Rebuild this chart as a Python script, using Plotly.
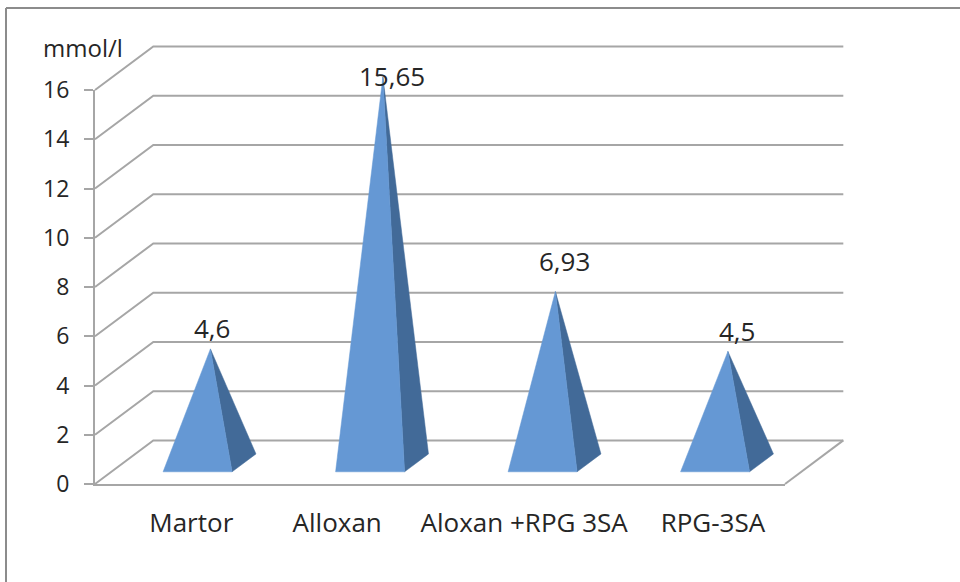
import plotly.graph_objects as go

# Fasting glucose per experimental group
groups = ["Martor", "Alloxan", "Aloxan +RPG 3SA", "RPG-3SA"]
glucose = [4.6, 15.65, 6.93, 4.5]
y_ticks = [0, 2, 4, 6, 8, 10, 12, 14, 16]
unit = "mmol/l"

# Oblique projection of the chart floor, in axis units
DEPTH_X = 0.338
DEPTH_Y = 1.77
HALF_BASE = 0.2
FRONT, MID, BACK = 0.28, 0.5, 0.69

# Nudges for the hand-placed labels (category units, pixels)
TICK_NUDGE = [0.058, -0.096, -0.012, 0.082]
VALUE_NUDGE = [(2, 1), (9, -19), (9, 11), (9, 0)]

GRID = "#A6A6A6"
TEXT = "#262626"
FONT = "Open Sans"
FACE = "#6598D4"
SIDE = "#426A98"

W, H = 960, 582
# Front plane of the chart on the page, in pixels
AX_L, AX_R, AX_TOP, AX_BOTTOM = 95, 785, 90, 484
x0, x1 = -0.5, len(groups) - 0.5
y_max = y_ticks[-1]
px_per_x = (AX_R - AX_L) / (x1 - x0)
px_per_y = (AX_BOTTOM - AX_TOP) / y_max

fig = go.Figure()

# The front axes live on x/y; this empty trace keeps that subplot drawn
fig.add_trace(go.Scatter(x=[None], y=[None], xaxis="x", yaxis="y", hoverinfo="skip"))


def overlay(**kw):
    return go.Scatter(xaxis="x2", yaxis="y2", cliponaxis=False, hoverinfo="skip", **kw)


# Gridlines run from the front axis over the side wall and along the back wall
grid_x, grid_y = [], []
for v in y_ticks:
    grid_x += [x0, x0 + DEPTH_X, x1 + DEPTH_X, None]
    grid_y += [v, v + DEPTH_Y, v + DEPTH_Y, None]
grid_x += [x1 + DEPTH_X, x1]
grid_y += [DEPTH_Y, 0]
fig.add_trace(overlay(x=grid_x, y=grid_y, mode="lines", line=dict(color=GRID, width=2)))

# Pyramids: a lit front face and a darker right face meeting at the apex
for i, v in enumerate(glucose):
    apex = (i + MID * DEPTH_X, v + MID * DEPTH_Y)
    fl = (i - HALF_BASE + FRONT * DEPTH_X, FRONT * DEPTH_Y)
    fr = (i + HALF_BASE + FRONT * DEPTH_X, FRONT * DEPTH_Y)
    br = (i + HALF_BASE + BACK * DEPTH_X, BACK * DEPTH_Y)
    for pts, colour in (([fr, br, apex], SIDE), ([fl, fr, apex], FACE)):
        fig.add_trace(overlay(x=[p[0] for p in pts] + [pts[0][0]],
                              y=[p[1] for p in pts] + [pts[0][1]],
                              mode="lines", fill="toself", fillcolor=colour,
                              line=dict(color=colour, width=0.5)))
    nudge_x, nudge_y = VALUE_NUDGE[i]
    fig.add_annotation(x=apex[0], y=apex[1], xref="x2", yref="y2",
                       text=str(v).replace(".", ","), showarrow=False,
                       xshift=nudge_x, yshift=nudge_y, yanchor="bottom",
                       font=dict(family=FONT, size=26, color=TEXT))

fig.add_annotation(x=x0, y=y_max, xref="x2", yref="y2", text=unit, showarrow=False,
                   xanchor="center", yanchor="middle", xshift=-12, yshift=43,
                   font=dict(family=FONT, size=24, color=TEXT))

# Frame around the chart: only the left and top edges fall inside the page
frame = dict(type="line", xref="paper", yref="paper",
             line=dict(color="#8C8C8C", width=2))
fig.add_shape(x0=6 / W, x1=6 / W, y0=0, y1=1 - 8 / H, **frame)
fig.add_shape(x0=6 / W, x1=1, y0=1 - 8 / H, y1=1 - 8 / H, **frame)

fig.update_layout(
    width=W, height=H, showlegend=False,
    margin=dict(l=0, r=0, t=0, b=0, autoexpand=False),
    paper_bgcolor="white", plot_bgcolor="rgba(0,0,0,0)",
    xaxis=dict(domain=[AX_L / W, AX_R / W], range=[x0, x1],
               showgrid=False, zeroline=False, tickmode="array",
               tickvals=[i + n for i, n in enumerate(TICK_NUDGE)],
               ticktext=groups, ticks="", ticklabelstandoff=15,
               tickfont=dict(family=FONT, size=26, color=TEXT),
               showline=True, linecolor=GRID, linewidth=2),
    yaxis=dict(domain=[1 - AX_BOTTOM / H, 1 - AX_TOP / H], range=[0, y_max],
               showgrid=False, zeroline=False, tickmode="array", tickvals=y_ticks,
               ticks="outside", ticklen=9, tickcolor=GRID, tickwidth=2,
               ticklabelstandoff=10,
               tickfont=dict(family=FONT, size=23, color=TEXT),
               showline=True, linecolor=GRID, linewidth=2),
    # Full-page overlay sharing the scales of the front axes, so depth can leave the plot box
    xaxis2=dict(domain=[0, 1], anchor="y2", visible=False,
                range=[x0 - AX_L / px_per_x, x1 + (W - AX_R) / px_per_x]),
    yaxis2=dict(domain=[0, 1], anchor="x2", visible=False,
                range=[-(H - AX_BOTTOM) / px_per_y, AX_BOTTOM / px_per_y]),
)

fig.write_html("out.html")
